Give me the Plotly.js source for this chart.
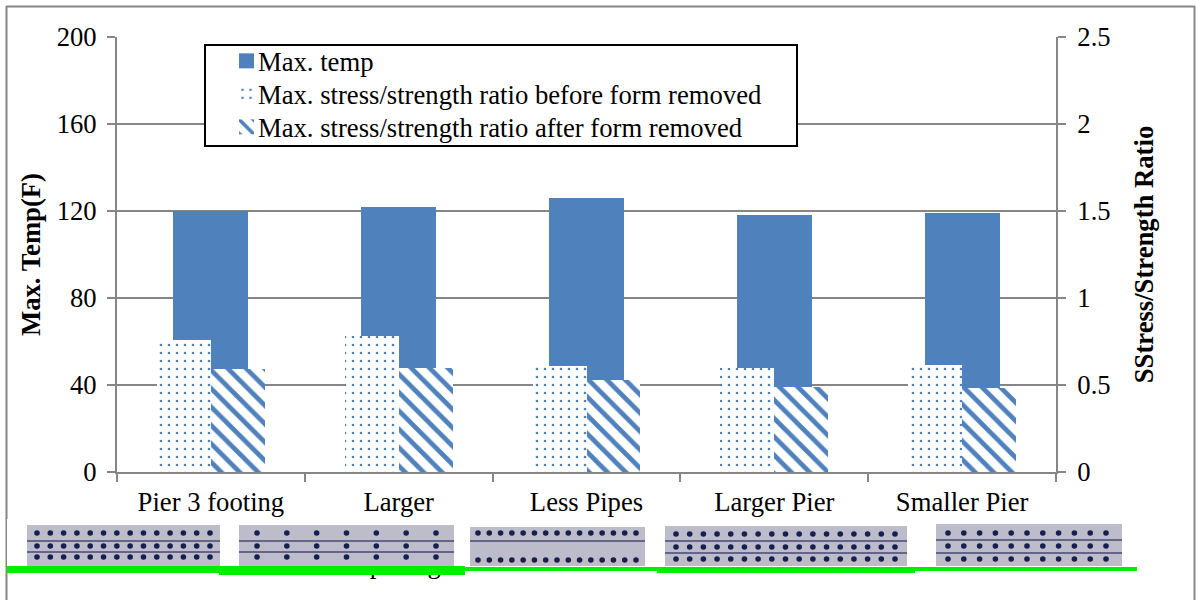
<!DOCTYPE html>
<html><head><meta charset="utf-8">
<script src="https://cdn.plot.ly/plotly-3.0.1.min.js"></script>
<style>html,body{margin:0;padding:0;background:#fff}#c{width:1196px;height:600px}</style>
</head><body><div id="c"></div>
<script>
const categories = ['Pier 3 footing', 'Larger', 'Less Pipes', 'Larger Pier', 'Smaller Pier'];
const hiddenLabelLine = ['spacing'];
const maxTemp = [120, 122, 126, 118, 119];
const ratioBefore = [0.76, 0.78, 0.61, 0.60, 0.615];
const ratioAfter = [0.59, 0.60, 0.53, 0.49, 0.48];
const yTicks = [0, 40, 80, 120, 160, 200];
const y2Ticks = [0, 0.5, 1, 1.5, 2, 2.5];
const y2TickLabels = ['0', '0.5', '1', '1.5', '2', '2.5'];

const W = 1196, H = 600, BLUE = '#4F81BD', GRID = '#868686', SERIF = '"Liberation Serif","Times New Roman",serif', FS = 26.67;
const px = x => x / W, py = y => 1 - y / H;
const rect = (x0, y0, x1, y1, color) => ({type:'rect', xref:'paper', yref:'paper', layer:'above',
  x0:px(x0), x1:px(x1), y0:py(y1), y1:py(y0), fillcolor:color, line:{width:0}});
const hline = (x0, x1, y, color, w) => ({type:'line', xref:'paper', yref:'paper', layer:'above',
  x0:px(x0), x1:px(x1), y0:py(y), y1:py(y), line:{color:color, width:w}});
const vline = (x, y0, y1, color, w) => ({type:'line', xref:'paper', yref:'paper', layer:'above',
  x0:px(x), x1:px(x), y0:py(y0), y1:py(y1), line:{color:color, width:w}});
const dot = (x, y, r, color) => ({type:'circle', xref:'paper', yref:'paper', layer:'above',
  x0:px(x-r), x1:px(x+r), y0:py(y+r), y1:py(y-r), fillcolor:color, line:{width:0}});

// Pasted pier-section thumbnails along the bottom of the figure
const thumbs = [
  {box:[7,519,220,567],   gray:[27,525,222,566],  green:[7,566,220,573],   dx:[37,210],  n:14, rows:[533,546,557], lines:[541,552]},
  {box:[220,519,465,567], gray:[239,525,454,566], green:[219,566,465,575], dx:[257,436], n:7,  rows:[533,546,557], lines:[541,552]},
  {box:[465,519,660,567], gray:[470,527,645,566], green:[465,567,660,571], dx:[478,636], n:15, rows:[533,560],     lines:[541]},
  {box:[645,519,915,567], gray:[665,526,907,566], green:[657,567,915,573], dx:[676,895], n:17, rows:[534,547,559], lines:[541,553]},
  {box:[915,519,1137,567],gray:[936,524,1122,566],green:[915,567,1137,571],dx:[948,1106],n:11, rows:[533,546,559], lines:[540,553]}
];
const shapes = [
  hline(6, 1195, 6.5, GRID, 2), vline(6.5, 6, 600, GRID, 2), vline(1194.5, 6, 600, GRID, 2)
];
thumbs.forEach(t => {
  shapes.push(rect(...t.box, '#ffffff'));
  shapes.push(rect(...t.gray, '#bdbccb'));
  t.lines.forEach(y => shapes.push(hline(t.gray[0], t.gray[2], y, '#4b4674', 1.5)));
  t.rows.forEach(y => {
    for (let i = 0; i < t.n; i++) {
      shapes.push(dot(t.dx[0] + i * (t.dx[1]-t.dx[0]) / (t.n-1), y, 2.8, '#16204f'));
    }
  });
  shapes.push(rect(...t.green, '#00ee00'));
});

const traces = [
  {type:'bar', name:'Max. temp', x:categories, y:maxTemp, yaxis:'y', width:0.4, offset:-0.2,
   marker:{color:BLUE, line:{width:0}}},
  {type:'bar', name:'Max. stress/strength ratio before form removed', x:categories, y:ratioBefore, yaxis:'y2',
   width:0.287, offset:-0.287,
   marker:{color:'#ffffff', line:{width:0}, pattern:{shape:'.', bgcolor:'#ffffff', fgcolor:BLUE, size:8, solidity:0.09, fillmode:'replace'}}},
  {type:'bar', name:'Max. stress/strength ratio after form removed', x:categories, y:ratioAfter, yaxis:'y2',
   width:0.287, offset:0,
   marker:{color:'#ffffff', line:{width:0}, pattern:{shape:'\\', bgcolor:'#ffffff', fgcolor:BLUE, size:13, solidity:0.36, fillmode:'replace'}}},
  // second line of the "Larger" label, almost entirely covered by the pasted thumbnail;
  // drawn on a hidden page-sized pair of axes so it can sit below the main plot area
  {type:'scatter', mode:'text', x:[400], y:[566], text:hiddenLabelLine, xaxis:'x3', yaxis:'y3',
   textposition:'middle center', textfont:{family:SERIF, size:FS, color:'#000000'}, cliponaxis:false,
   showlegend:false, hoverinfo:'skip'}
];
const layout = {
  width:W, height:H, margin:{l:0, r:0, t:0, b:0}, autosize:false,
  paper_bgcolor:'#ffffff', plot_bgcolor:'rgba(0,0,0,0)',
  font:{family:SERIF, size:FS, color:'#000000'},
  barmode:'overlay', bargap:0,
  xaxis:{domain:[px(117), px(1056)], type:'category', tickson:'boundaries', ticks:'outside', ticklen:8, tickwidth:2,
    tickcolor:GRID, linecolor:GRID, linewidth:2, showline:true, showgrid:false, zeroline:false, anchor:'y',
    tickfont:{family:SERIF, size:FS}, ticklabelstandoff:5, automargin:false, tickangle:0,
    categoryorder:'array', categoryarray:categories},
  yaxis:{domain:[py(472), py(37)], range:[0,200], tickmode:'array', tickvals:yTicks, ticks:'outside', ticklen:8, tickwidth:2,
    tickcolor:GRID, linecolor:GRID, linewidth:2, showline:true, gridcolor:GRID, gridwidth:2, zeroline:false,
    tickfont:{family:SERIF, size:FS}, ticklabelstandoff:5, automargin:false,
    title:{text:'<b>Max. Temp(F)</b>', font:{family:SERIF, size:FS}, standoff:8}},
  yaxis2:{domain:[py(472), py(37)], range:[0,2.5], overlaying:'y', side:'right', tickmode:'array', tickvals:y2Ticks, ticktext:y2TickLabels,
    ticks:'outside', ticklen:8, tickwidth:2, tickcolor:GRID, linecolor:GRID, linewidth:2, showline:true, showgrid:false, zeroline:false,
    tickfont:{family:SERIF, size:FS}, ticklabelstandoff:6, automargin:false,
    title:{text:'<b>SStress/Strength Ratio</b>', font:{family:SERIF, size:FS}, standoff:25}},
  xaxis3:{domain:[0,1], range:[0,W], visible:false, anchor:'y3', fixedrange:true},
  yaxis3:{domain:[0,1], range:[H,0], visible:false, anchor:'x3', fixedrange:true},
  legend:{x:px(204), y:py(44), xanchor:'left', yanchor:'top', bgcolor:'#ffffff', bordercolor:'#000000', borderwidth:2,
    orientation:'v', traceorder:'normal', font:{family:SERIF, size:FS}, itemsizing:'constant', itemwidth:42},
  showlegend:true,
  shapes:shapes
};
Plotly.newPlot('c', traces, layout, {displayModeBar:false, staticPlot:true}).then(() => {
  // Tighten the legend rows to the reference's 33px pitch, resize its box and enlarge the swatches
  const ROW = 33, FIRST_SHIFT = -9;
  const rows = document.querySelectorAll('.legend .traces');
  let y0 = null;
  rows.forEach((g, i) => {
    const m = /translate\(\s*([-\d.]+)[ ,]+([-\d.]+)/.exec(g.getAttribute('transform'));
    if (!m) return;
    if (y0 === null) y0 = parseFloat(m[2]);
    g.setAttribute('transform', `translate(${m[1]},${y0 + FIRST_SHIFT + ROW * i})`);
    const pts = g.querySelector('.legendpoints');
    if (pts) pts.setAttribute('transform', 'translate(8,0) scale(1.25)');
  });
  const bg = document.querySelector('.legend .bg');
  if (bg) { bg.setAttribute('height', 101); bg.setAttribute('width', 592); }
  const clip = document.querySelector('.legend .legendclip, [id^="legend"] rect');
  document.querySelectorAll('clipPath[id*="legend"] rect').forEach(r => r.setAttribute('width', 592));
});
</script></body></html>
